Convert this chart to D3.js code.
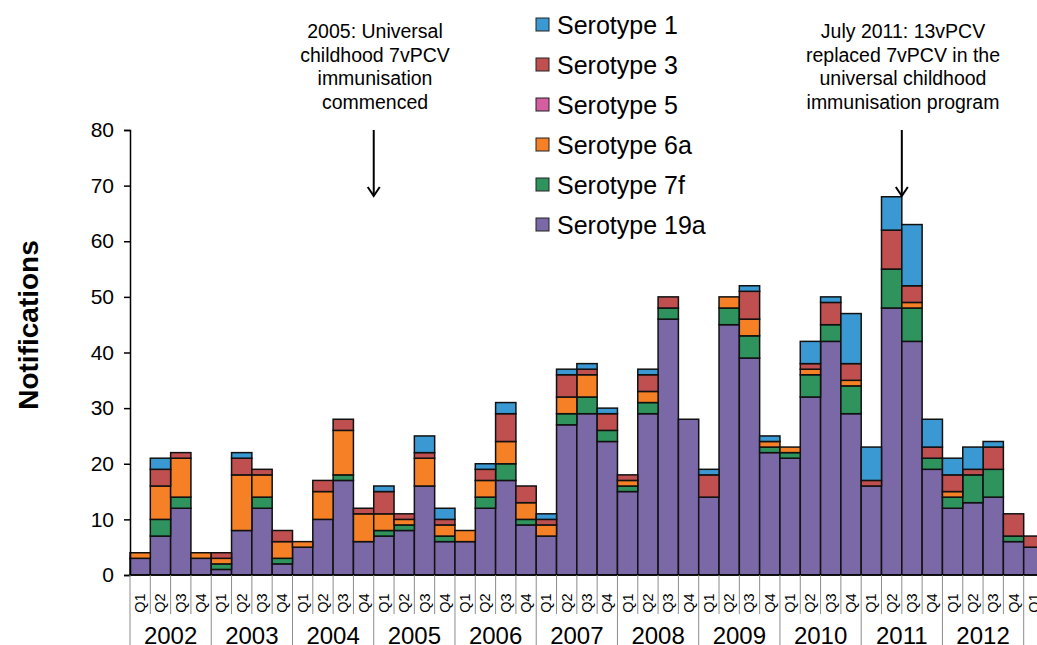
<!DOCTYPE html>
<html>
<head>
<meta charset="utf-8">
<script src="https://cdn.jsdelivr.net/npm/d3@7"></script>
<style>
  body { margin: 0; background: #fff; }
  svg { display: block; font-family: "Liberation Sans", Arial, sans-serif; }
</style>
</head>
<body>
<div id="chart"></div>
<script>
// quarters 2002 Q1 .. 2013 Q1
var years = ["2002","2003","2004","2005","2006","2007","2008","2009","2010","2011","2012"];
var quarterNames = ["Q1","Q2","Q3","Q4"];
var yTicks = [0, 10, 20, 30, 40, 50, 60, 70, 80];

// notifications per quarter, by serotype
var sero19a = [3,7,12,3, 1,8,12,2, 5,10,17,6, 7,8,16,6, 6,12,17,9, 7,27,29,24, 15,29,46,28, 14,45,39,22, 21,32,42,29, 16,48,42,19, 12,13,14,6, 5];
var sero7f  = [0,3,2,0, 1,0,2,1, 0,0,1,0, 1,1,0,1, 0,2,3,1, 0,2,3,2, 1,2,2,0, 0,3,4,1, 1,4,3,5, 0,7,6,2, 2,5,5,1, 0];
var sero6a  = [1,6,7,1, 1,10,4,3, 1,5,8,5, 3,1,5,2, 2,3,4,3, 2,3,4,0, 1,2,0,0, 0,2,3,1, 1,1,0,1, 0,0,1,0, 1,0,0,0, 0];
var sero5   = [0,0,0,0, 0,0,0,0, 0,0,0,0, 0,0,0,0, 0,0,0,0, 0,0,0,0, 0,0,0,0, 0,0,0,0, 0,0,0,0, 0,0,0,0, 0,0,0,0, 0];
var sero3   = [0,3,1,0, 1,3,1,2, 0,2,2,1, 4,1,1,1, 0,2,5,3, 1,4,1,3, 1,3,2,0, 4,0,5,0, 0,1,4,3, 1,7,3,2, 3,1,4,4, 2];
var sero1   = [0,2,0,0, 0,1,0,0, 0,0,0,0, 1,0,3,2, 0,1,2,0, 1,1,1,1, 0,1,0,0, 1,0,1,1, 0,4,1,9, 6,6,11,5, 3,4,1,0, 0];

var seriesNames = ["Serotype 19a","Serotype 7f","Serotype 6a","Serotype 5","Serotype 3","Serotype 1"];
var seriesData = [sero19a, sero7f, sero6a, sero5, sero3, sero1];
var colors = {"Serotype 1":"#3A99D3","Serotype 3":"#C0504F","Serotype 5":"#D45EA0",
              "Serotype 6a":"#F58026","Serotype 7f":"#2E935C","Serotype 19a":"#7B68A6"};
var legendOrder = ["Serotype 1","Serotype 3","Serotype 5","Serotype 6a","Serotype 7f","Serotype 19a"];

var quarters = [];
years.forEach(function(y) { quarterNames.forEach(function(q) { quarters.push({year: y, q: q}); }); });
quarters.push({year: "2013", q: "Q1"});

var rows = quarters.map(function(d, i) {
  var r = {key: d.year + " " + d.q};
  seriesNames.forEach(function(s, j) { r[s] = seriesData[j][i]; });
  return r;
});

var W = 1037, H = 645;
var svg = d3.select("#chart").append("svg").attr("width", W).attr("height", H);

var x = d3.scaleBand().domain(rows.map(function(d){ return d.key; })).range([130, 1044]).padding(0);
var y = d3.scaleLinear().domain([0, 80]).range([575, 130]);

var stack = d3.stack().keys(seriesNames)(rows);

// bars
svg.append("g").selectAll("g")
  .data(stack).enter().append("g")
  .attr("fill", function(d) { return colors[d.key]; })
  .selectAll("rect")
  .data(function(d) { return d.filter(function(p) { return p[1] > p[0]; }); })
  .enter().append("rect")
  .attr("x", function(d) { return x(d.data.key); })
  .attr("y", function(d) { return y(d[1]); })
  .attr("width", x.bandwidth())
  .attr("height", function(d) { return y(d[0]) - y(d[1]); })
  .attr("stroke", "#111")
  .attr("stroke-width", 1.5);

// y axis
var yAxis = svg.append("g")
  .attr("transform", "translate(130,0)")
  .call(d3.axisLeft(y).tickValues(yTicks).tickSize(6).tickPadding(10));
yAxis.select(".domain").attr("stroke", "#000").attr("stroke-width", 1.5);
yAxis.selectAll(".tick line").attr("stroke", "#000").attr("stroke-width", 1.5);
yAxis.selectAll("text").attr("font-size", 21).attr("fill", "#000")
  .attr("font-family", "Liberation Sans, Arial, sans-serif");

svg.append("text")
  .attr("transform", "translate(38,325) rotate(-90)")
  .attr("text-anchor", "middle")
  .attr("font-size", 28).attr("font-weight", "bold")
  .text("Notifications");

// x axis: baseline, quarter separators, year separators
svg.append("line").attr("x1", 130).attr("x2", W).attr("y1", 575).attr("y2", 575)
  .attr("stroke", "#000").attr("stroke-width", 1.5);

var xg = svg.append("g");
xg.selectAll(".qsep").data(rows).enter().append("line")
  .attr("x1", function(d) { return x(d.key); }).attr("x2", function(d) { return x(d.key); })
  .attr("y1", 575)
  .attr("y2", function(d, i) { return i % 4 === 0 ? H : 614; })
  .attr("stroke", "#8c8c8c").attr("stroke-width", 1);

xg.selectAll(".qlab").data(quarters).enter().append("text")
  .attr("transform", function(d, i) {
    return "translate(" + (x(rows[i].key) + x.bandwidth() / 2 + 5) + ",603) rotate(-90)";
  })
  .attr("text-anchor", "middle")
  .attr("font-size", 14.5)
  .text(function(d) { return d.q; });

xg.selectAll(".ylab").data(years).enter().append("text")
  .attr("x", function(d, i) { return x(rows[i * 4].key) + x.bandwidth() * 2; })
  .attr("y", 644)
  .attr("text-anchor", "middle")
  .attr("font-size", 24)
  .text(function(d) { return d; });

// legend
var leg = svg.append("g").selectAll("g").data(legendOrder).enter().append("g")
  .attr("transform", function(d, i) { return "translate(536," + (25 + i * 40) + ")"; });
leg.append("rect").attr("x", 0).attr("y", -7).attr("width", 13).attr("height", 13)
  .attr("fill", function(d) { return colors[d]; }).attr("stroke", "#222").attr("stroke-width", 1);
leg.append("text").attr("x", 21).attr("y", 9).attr("font-size", 25).text(function(d) { return d; });

// annotations
function note(cx, lines, ax) {
  var t = svg.append("text").attr("text-anchor", "middle").attr("font-size", 19.5);
  lines.forEach(function(l, i) {
    t.append("tspan").attr("x", cx).attr("y", 38 + i * 23.5).text(l);
  });
  svg.append("line").attr("x1", ax).attr("x2", ax).attr("y1", 130).attr("y2", 196)
    .attr("stroke", "#000").attr("stroke-width", 2);
  svg.append("path")
    .attr("d", "M" + (ax - 6) + ",187 L" + ax + ",196 L" + (ax + 6) + ",187")
    .attr("fill", "none").attr("stroke", "#000").attr("stroke-width", 2);
}
note(375, ["2005: Universal", "childhood 7vPCV", "immunisation", "commenced"], x("2005 Q1"));
note(903, ["July 2011: 13vPCV", "replaced 7vPCV in the", "universal childhood", "immunisation program"], x("2011 Q3"));
</script>
</body>
</html>
